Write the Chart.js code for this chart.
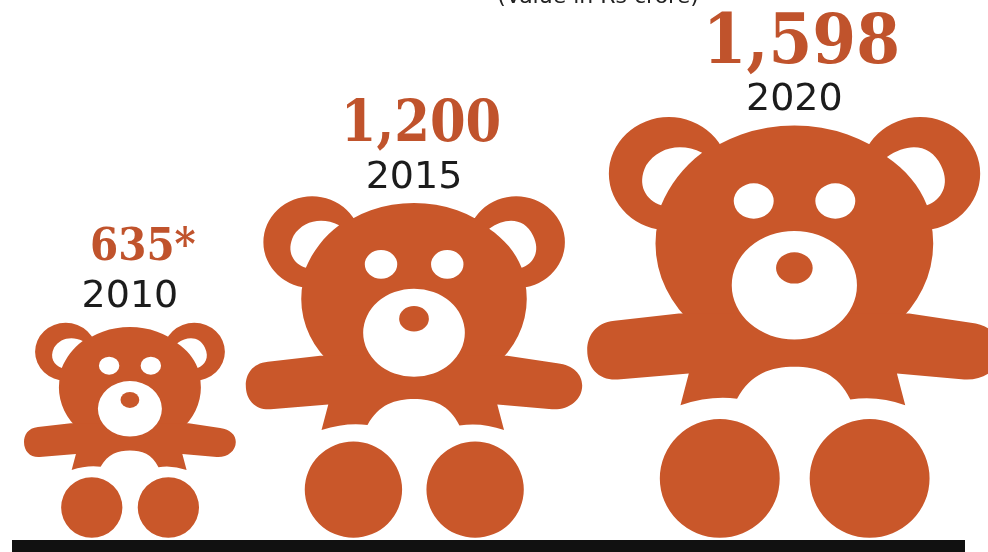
<!DOCTYPE html>
<html>
<head>
<meta charset="utf-8">
<style>
  html, body { margin: 0; padding: 0; background: #fff; overflow: hidden; }
  canvas { display: block; }
</style>
<script src="https://cdn.jsdelivr.net/npm/chart.js@4/dist/chart.umd.js"></script>
</head>
<body>
<canvas id="myChart" width="988" height="552"></canvas>
<script>
const years = ['2010', '2015', '2020'];
const sales = [635, 1200, 1598];
const valueLabels = ['635*', '1,200', '1,598'];
const unitNote = '(Value in Rs crore)';

const bearColor = '#c9572a';
const valueColor = '#c0532c';
const valueFontSizes = [45, 57, 70];
const yearOffsets = [16, 8, 7];      // gap between year text and top of the bear
const valueOffsets = [19, 19, 19];   // gap between value text and top of the year text
const valueShift = [13, 7, 7];       // value text sits a bit right of the year
const bearGaps = [10, 5];
const bearAspect = 0.985;

// icon sizes grow slower than the values, so the y axis is a power scale
class PowerScale extends Chart.LinearScale {
    getPixelForValue(value) {
        return this.getPixelForDecimal(Math.pow(value / this.max, this.options.exponent));
    }
    getValueForPixel(pixel) {
        return this.max * Math.pow(this.getDecimalForPixel(pixel), 1 / this.options.exponent);
    }
}
PowerScale.id = 'power';
PowerScale.defaults = {};

// categories are packed side by side according to the width of each bear
class PackedScale extends Chart.CategoryScale {
    getPixelForValue(value) {
        const y = this.chart.scales.y;
        const width = i => bearAspect * (y.getPixelForValue(0) - y.getPixelForValue(sales[i]));
        let x = this.left + this.options.startPadding;
        for (let i = 0; i < value; i++) {
            x += width(i) + bearGaps[i];
        }
        return x + width(value) / 2;
    }
}
PackedScale.id = 'packed';
PackedScale.defaults = {};

Chart.register(PowerScale, PackedScale);

// bear is drawn in a 1263 high design box, x measured from the middle
function drawBear(ctx, cx, top, bottom) {
    const s = (bottom - top) / 1263;
    ctx.save();
    ctx.translate(cx, top);
    ctx.scale(s, s);
    ctx.translate(0, -21);

    const oval = (x, y, rx, ry) => {
        ctx.moveTo(x + rx, y);
        ctx.ellipse(x, y, rx, ry, 0, 0, Math.PI * 2);
    };

    ctx.fillStyle = bearColor;
    ctx.beginPath();
    oval(-377, 190, 180, 170);
    oval(378, 190, 180, 170);
    oval(0, 400, 417, 355);
    oval(-224, 1105, 180, 178);
    oval(226, 1105, 180, 178);
    ctx.fill();

    // arms and belly
    ctx.beginPath();
    ctx.moveTo(-347, 610);
    ctx.lineTo(-540, 632);
    ctx.bezierCurveTo(-600, 638, -622, 680, -622, 720);
    ctx.bezierCurveTo(-622, 775, -585, 812, -530, 808);
    ctx.lineTo(-317, 790);
    ctx.lineTo(-342, 885);
    ctx.quadraticCurveTo(-250, 855, -172, 866);
    ctx.bezierCurveTo(-130, 790, -70, 770, 0, 770);
    ctx.bezierCurveTo(70, 770, 130, 790, 168, 868);
    ctx.quadraticCurveTo(250, 855, 333, 885);
    ctx.lineTo(308, 790);
    ctx.lineTo(510, 808);
    ctx.bezierCurveTo(570, 812, 622, 775, 622, 720);
    ctx.bezierCurveTo(622, 680, 590, 645, 530, 638);
    ctx.lineTo(345, 610);
    ctx.closePath();
    ctx.fill();

    // ear holes, eyes and muzzle
    ctx.fillStyle = '#ffffff';
    ctx.beginPath();
    ctx.moveTo(-277, 127);
    ctx.bezierCurveTo(-340, 95, -410, 110, -445, 165);
    ctx.bezierCurveTo(-475, 225, -445, 270, -400, 285);
    ctx.bezierCurveTo(-375, 225, -335, 170, -277, 127);
    ctx.closePath();
    ctx.moveTo(278, 140);
    ctx.bezierCurveTo(340, 95, 410, 100, 440, 165);
    ctx.bezierCurveTo(470, 225, 440, 270, 398, 285);
    ctx.bezierCurveTo(375, 225, 335, 180, 278, 140);
    ctx.closePath();
    oval(-122, 272, 60, 53);
    oval(123, 272, 60, 53);
    oval(0, 525, 188, 163);
    ctx.fill();

    ctx.fillStyle = bearColor;
    ctx.beginPath();
    oval(0, 473, 55, 47);
    ctx.fill();
    ctx.restore();
}

const bearPlugin = {
    id: 'bears',
    beforeDatasetsDraw(chart) {
        const ctx = chart.ctx;
        // black rule along the foot of the graphic
        ctx.fillStyle = '#111111';
        ctx.fillRect(12, chart.chartArea.bottom + 2, 953, 12);

        ctx.fillStyle = '#222222';
        ctx.font = '22px "DejaVu Sans"';
        ctx.textAlign = 'center';
        ctx.textBaseline = 'alphabetic';
        ctx.fillText(unitNote, 598, 3);
    },
    afterDatasetsDraw(chart) {
        const ctx = chart.ctx;
        chart.getDatasetMeta(0).data.forEach((bar, i) => {
            drawBear(ctx, bar.x, bar.y, bar.base);

            ctx.textAlign = 'center';
            ctx.textBaseline = 'alphabetic';
            const yearBase = bar.y - yearOffsets[i];
            ctx.fillStyle = '#1c1c1c';
            ctx.font = '38px "DejaVu Sans"';
            ctx.fillText(years[i], bar.x, yearBase);

            ctx.fillStyle = valueColor;
            ctx.font = 'condensed bold ' + valueFontSizes[i] + 'px "DejaVu Serif"';
            ctx.fillText(valueLabels[i], bar.x + valueShift[i], yearBase - 28 - valueOffsets[i]);
        });
    }
};

new Chart(document.getElementById('myChart'), {
    type: 'bar',
    data: {
        labels: years,
        datasets: [{
            label: 'Value',
            data: sales,
            backgroundColor: 'rgba(0,0,0,0)',
            borderWidth: 0
        }]
    },
    options: {
        responsive: false,
        animation: false,
        layout: { padding: { top: 0, right: 0, bottom: 14, left: 0 } },
        plugins: { legend: { display: false }, tooltip: { enabled: false } },
        scales: {
            x: { type: 'packed', startPadding: 24, display: false },
            y: { type: 'power', exponent: 0.727, min: 0, max: 2242, display: false }
        }
    },
    plugins: [bearPlugin]
});
</script>
</body>
</html>
